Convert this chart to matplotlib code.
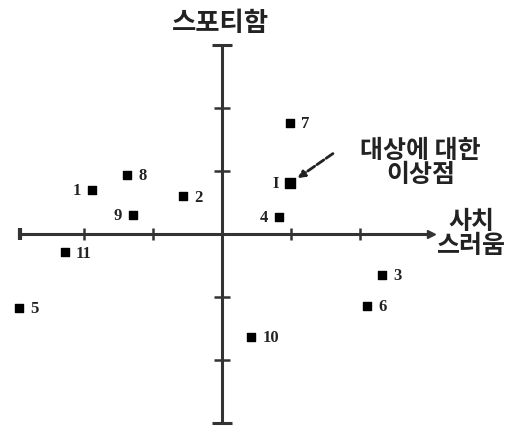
import matplotlib
matplotlib.use("Agg")
import matplotlib.pyplot as plt

plt.rcParams['font.family'] = ['Noto Sans CJK KR', 'DejaVu Sans']

# Data
labels = ["1", "2", "3", "4", "5", "6", "7", "8", "9", "10", "11"]
x_lux = [-1.88, -0.57, 2.32, 0.83, -2.94, 2.10, 0.99, -1.38, -1.29, 0.42, -2.28]
y_sport = [0.70, 0.60, -0.65, 0.27, -1.17, -1.14, 1.76, 0.94, 0.30, -1.63, -0.29]
label_side = ["left", "right", "right", "left", "right", "right", "right", "right", "left", "right", "right"]
ideal_label = "I"
ideal_x = 0.99
ideal_y = 0.81
ideal_text = "대상에 대한\n이상점"
x_axis_title = "사치\n스러움"
y_axis_title = "스포티함"
x_ticks = [-2, -1, 1, 2]
y_ticks = [-2, -1, 1, 2]

fig = plt.figure(figsize=(5.18, 4.32), dpi=100)
ax = fig.add_axes([0, 0, 1, 1])
ax.set_xlim(-3.22, 4.29)
ax.set_ylim(-3.14, 3.71)
ax.axis('off')

axis_color = "#333333"
# axes lines
ax.plot([-2.93, 3.03], [0, 0], color=axis_color, lw=2.2, solid_capstyle='butt')
ax.plot([0, 0], [-3.0, 3.0], color=axis_color, lw=2.2, solid_capstyle='butt')
# tick marks
ax.plot(x_ticks, [0] * len(x_ticks), ls='none', marker='|', ms=9, mew=1.8, color=axis_color)
ax.plot([0] * len(y_ticks), y_ticks, ls='none', marker='_', ms=12, mew=1.8, color=axis_color)
# axis end caps
ax.plot([0, 0], [3.0, -3.0], ls='none', marker='_', ms=14, mew=2.2, color=axis_color)
ax.plot([3.03], [0], ls='none', marker='>', ms=6, color=axis_color)
ax.plot([-2.93], [0], ls='none', marker='|', ms=8, mew=3, color=axis_color)

# points
ax.scatter(x_lux, y_sport, marker='s', s=40, color='black', zorder=3)
for lab, xv, yv, side in zip(labels, x_lux, y_sport, label_side):
    dx = 8 if side == "right" else -8
    ax.annotate(lab, (xv, yv), xytext=(dx, -1), textcoords='offset points',
                ha='left' if side == "right" else 'right', va='center',
                fontsize=12, fontweight='bold', family='Liberation Serif', color='#222222')

# ideal point
ax.scatter([ideal_x], [ideal_y], marker='s', s=44, color='black', zorder=3)
ax.annotate(ideal_label, (ideal_x, ideal_y), xytext=(-8, -1), textcoords='offset points',
            ha='right', va='center', fontsize=12, fontweight='bold',
            family='Liberation Serif', color='#222222')
ax.annotate("", xy=(ideal_x + 0.07, ideal_y + 0.05), xytext=(ideal_x + 0.65, ideal_y + 0.49),
            arrowprops=dict(arrowstyle='-|>', color='#222222', lw=2, mutation_scale=10,
                            linestyle=(0, (3, 1))))
ax.text(2.88, 1.12, ideal_text, ha='center', va='center',
        fontsize=18, fontweight='bold', color='#222222', linespacing=1.0)

# axis titles
ax.text(-0.03, 3.33, y_axis_title, ha='center', va='center', fontsize=19,
        fontweight='bold', color='#222222')
ax.text(3.61, 0.0, x_axis_title, ha='center', va='center', fontsize=18,
        fontweight='bold', color='#222222', linespacing=1.0)

fig.savefig("out.png", dpi=100)
